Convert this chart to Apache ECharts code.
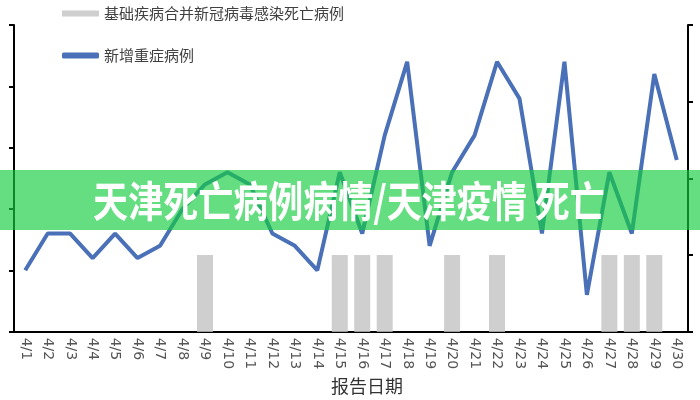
<!DOCTYPE html>
<html>
<head>
<meta charset="utf-8">
<script src="https://cdn.jsdelivr.net/npm/echarts@6/dist/echarts.min.js"></script>
<style>html,body{margin:0;padding:0;background:#fff;}#c{width:700px;height:400px;}</style>
</head>
<body>
<div id="c"></div>
<script>
var categories = ['4/1','4/2','4/3','4/4','4/5','4/6','4/7','4/8','4/9','4/10','4/11','4/12','4/13','4/14','4/15','4/16','4/17','4/18','4/19','4/20','4/21','4/22','4/23','4/24','4/25','4/26','4/27','4/28','4/29','4/30'];
var deathCases = [null,null,null,null,null,null,null,null,1,null,null,null,null,null,1,1,1,null,null,1,null,1,null,null,null,null,1,1,1,null];
var severeCases = [5,8,8,6,8,6,7,10,12,13,12,8,7,5,13,8,16,22,7,13,16,22,19,8,22,3,13,8,21,14];
var seriesNames = ['基础疾病合并新冠病毒感染死亡病例','新增重症病例'];
var xAxisName = '报告日期';
var bannerText = '天津死亡病例病情/天津疫情 死亡';

var chart = echarts.init(document.getElementById('c'));
chart.setOption({
  animation: false,
  backgroundColor: '#fff',
  grid: {left: 14, right: 12, top: 25, bottom: 67},
  legend: {
    orient: 'vertical', left: 57, top: 1, itemGap: 27,
    itemWidth: 37, itemHeight: 6,
    textStyle: {fontSize: 15, color: '#404040', fontFamily: 'Noto Sans CJK SC'},
    data: [
      {name: seriesNames[0], icon: 'rect'},
      {name: seriesNames[1], icon: 'roundRect'}
    ]
  },
  xAxis: {
    type: 'category', data: categories,
    name: xAxisName, nameLocation: 'middle', nameGap: 41,
    nameTextStyle: {fontSize: 18, color: '#333', fontFamily: 'Noto Sans CJK SC', padding: [0,0,0,32]},
    axisLine: {lineStyle: {color: '#000', width: 2}},
    axisTick: {length: 5, lineStyle: {color: '#000', width: 2}},
    axisLabel: {rotate: -90, fontSize: 14, color: '#555', margin: 6, fontFamily: 'DejaVu Sans', interval: 0}
  },
  yAxis: [
    {type: 'value', min: 0, max: 25, interval: 5, position: 'left',
     axisLine: {show: true, lineStyle: {color: '#000', width: 2}},
     axisTick: {show: true, length: 5, lineStyle: {color: '#000', width: 2}},
     axisLabel: {show: false}, splitLine: {show: false}},
    {type: 'value', min: 0, max: 4, interval: 1, position: 'right',
     axisLine: {show: true, lineStyle: {color: '#000', width: 2}},
     axisTick: {show: true, length: 5, lineStyle: {color: '#000', width: 2}},
     axisLabel: {show: false}, splitLine: {show: false}}
  ],
  series: [
    {name: seriesNames[0], type: 'bar', yAxisIndex: 1, data: deathCases,
     barWidth: 16, itemStyle: {color: '#d0cfcf'}},
    {name: seriesNames[1], type: 'line', yAxisIndex: 0, data: severeCases,
     symbol: 'none', lineStyle: {color: '#4a70b8', width: 4}, itemStyle: {color: '#4a70b8'}}
  ],
  graphic: [
    {type: 'rect', left: 0, top: 170, z: 100, shape: {width: 700, height: 60},
     style: {fill: 'rgba(20,205,62,0.66)'}},
    {type: 'text', x: 349, y: 201, z: 101, scaleY: 1.25, scaleX: 1.03,
     style: {text: bannerText, fill: '#fff', font: 'bold 34px "Noto Sans CJK SC"',
             align: 'center', verticalAlign: 'middle'}}
  ]
});
</script>
</body>
</html>
